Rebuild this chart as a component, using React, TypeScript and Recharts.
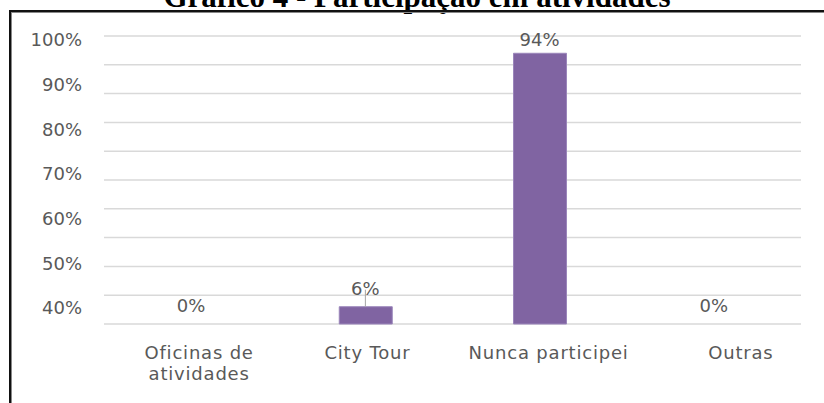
import { Bar, CartesianGrid, ComposedChart, LabelList, Line, XAxis, YAxis } from "recharts"

const categories = ["Oficinas de\natividades", "City Tour", "Nunca participei", "Outras"]
const participation = [0, 0.06, 0.94, 0]
const gridTicks = [0, 0.1, 0.2, 0.3, 0.4, 0.5, 0.6, 0.7, 0.8, 0.9, 1]
const tickLabels = [40, 50, 60, 70, 80, 90, 100]

const data = categories.map((name, i) => ({ name, value: participation[i] }))

// the category labels in the original sit a bit right of each band centre
const tickNudge = [8, 2, 9, 27]

const textFont = "'DejaVu Sans', sans-serif"
const textColor = "#595959"

function CategoryTick(props: any) {
  const { x, y, payload, index } = props
  const lines = String(payload.value).split("\n")
  const tx = x + (tickNudge[index] || 0)
  return (
    <text
      x={tx}
      y={y}
      textAnchor="middle"
      fill={textColor}
      fontSize={18}
      fontFamily={textFont}
      letterSpacing={0.8}
    >
      {lines.map((line, i) => (
        <tspan key={i} x={tx} dy={i === 0 ? 27 : 20.5}>
          {line}
        </tspan>
      ))}
    </text>
  )
}

function ValueLabel(props: any) {
  const { x, y, value } = props
  const small = value < 0.1
  const baseline = small ? y - 12 : y - 7
  return (
    <g>
      {small && value > 0 && (
        <line x1={x} x2={x} y1={y} y2={y - 17} stroke="#a6a6a6" strokeWidth={1} />
      )}
      <text
        x={x}
        y={baseline}
        textAnchor="middle"
        fill={textColor}
        fontSize={18}
        fontFamily={textFont}
      >
        {`${Math.round(value * 100)}%`}
      </text>
    </g>
  )
}

export default function App() {
  return (
    <div
      style={{
        position: "fixed",
        left: 0,
        top: 0,
        width: 824,
        height: 403,
        overflow: "hidden",
        background: "#fff",
      }}
    >
      <div
        style={{
          position: "absolute",
          left: 0,
          width: 834,
          top: -19,
          textAlign: "center",
          fontFamily: "'Liberation Serif', serif",
          fontWeight: "bold",
          fontSize: 31,
          lineHeight: "31px",
          color: "#000",
          whiteSpace: "nowrap",
        }}
      >
        Gráfico 4 - Participação em atividades
      </div>
      <div
        style={{
          position: "absolute",
          left: 9,
          top: 10,
          width: 830,
          height: 391,
          borderTop: "2px solid #111",
          borderLeft: "2px solid #111",
          borderBottom: "1px solid #e4e4e4",
          boxShadow: "inset 1px 1px 0 #888",
        }}
      />
      <div style={{ position: "absolute", left: 0, top: 0 }}>
        <ComposedChart
          width={824}
          height={403}
          data={data}
          margin={{ top: 36, right: 23, bottom: 29, left: 44 }}
        >
          <CartesianGrid
            yAxisId="value"
            vertical={false}
            stroke="#d9d9d9"
            strokeWidth={1.5}
          />
          <XAxis
            dataKey="name"
            axisLine={false}
            tickLine={false}
            height={50}
            interval={0}
            tick={<CategoryTick />}
          />
          <YAxis
            yAxisId="labels"
            orientation="left"
            width={60}
            type="number"
            domain={[36.4, 100.9]}
            ticks={tickLabels}
            allowDataOverflow
            axisLine={false}
            tickLine={false}
            tickSize={0}
            tickMargin={22}
            tickFormatter={(v) => `${v}%`}
            tick={{ fill: textColor, fontSize: 18, fontFamily: textFont }}
          />
          <YAxis yAxisId="value" hide type="number" domain={[0, 1]} ticks={gridTicks} />
          <Bar
            yAxisId="value"
            dataKey="value"
            fill="#8064a2"
            stroke="#9b86bb"
            strokeWidth={1}
            barSize={53}
            isAnimationActive={false}
          />
          <Line
            yAxisId="value"
            dataKey="value"
            stroke="none"
            dot={false}
            activeDot={false}
            isAnimationActive={false}
          >
            <LabelList dataKey="value" content={<ValueLabel />} />
          </Line>
        </ComposedChart>
      </div>
    </div>
  )
}
